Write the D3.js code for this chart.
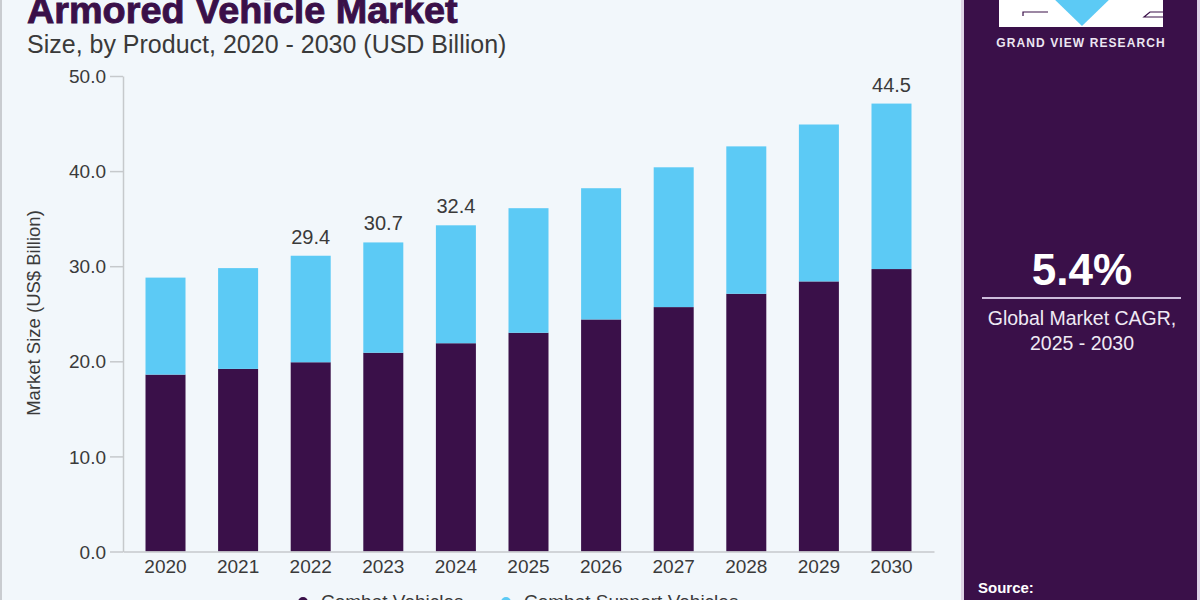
<!DOCTYPE html>
<html>
<head>
<meta charset="utf-8">
<script src="https://cdn.jsdelivr.net/npm/d3@7"></script>
<style>
  html, body { margin: 0; padding: 0; background: #f2f7fb; }
  svg { display: block; font-family: "Liberation Sans", Arial, sans-serif; }
</style>
</head>
<body>
<svg id="chart" width="1200" height="600"></svg>
<script>
// ---- data ----
const years = ["2020","2021","2022","2023","2024","2025","2026","2027","2028","2029","2030"];
const combatVehicles = [18.6, 19.2, 19.9, 20.9, 21.9, 23.0, 24.4, 25.7, 27.1, 28.4, 29.7];
const combatSupportVehicles = [10.2, 10.6, 11.2, 11.6, 12.4, 13.1, 13.8, 14.7, 15.5, 16.5, 17.4];
const seriesNames = ["Combat Vehicles", "Combat Support Vehicles"];
const seriesColors = ["#3a1049", "#5ccaf5"];
const labelYears = ["2022", "2023", "2024", "2030"];
const labelTexts = ["29.4", "30.7", "32.4", "44.5"];
const yTicks = [0, 10, 20, 30, 40, 50];
const cagrValue = "5.4%";
const cagrLines = ["Global Market CAGR,", "2025 - 2030"];

// ---- layout ----
const svg = d3.select("#chart");
const W = 1200, H = 600;

svg.append("rect").attr("width", W).attr("height", H).attr("fill", "#f2f7fb");
// left border line
svg.append("line").attr("x1", 1).attr("x2", 1).attr("y1", 0).attr("y2", H)
  .attr("stroke", "#c9ccd0").attr("stroke-width", 2);

// right panel
svg.append("rect").attr("x", 961).attr("y", 0).attr("width", 239).attr("height", H).attr("fill", "#ddd3e6");
svg.append("rect").attr("x", 964).attr("y", 0).attr("width", 233).attr("height", H).attr("fill", "#3a1049");

// logo (partially cut at top)
const logo = svg.append("g");
logo.append("rect").attr("x", 999).attr("y", -5).attr("width", 164).attr("height", 32).attr("fill", "#ffffff");
logo.append("path").attr("d", "M1050,-5 L1114,-5 L1082,26 Z").attr("fill", "#5ccaf5");
logo.append("path").attr("d", "M1048,12 L1023,12 L1023,16").attr("fill", "none").attr("stroke", "#3a1049").attr("stroke-width", 1.2);
logo.append("path").attr("d", "M1163,12 L1150,12 L1144,17 L1163,17").attr("fill", "none").attr("stroke", "#3a1049").attr("stroke-width", 1.2);
logo.append("text").attr("x", 1081).attr("y", 47).attr("text-anchor", "middle")
  .attr("font-size", 12).attr("font-weight", "bold").attr("letter-spacing", 1.1)
  .attr("fill", "#ece6f2").text("GRAND VIEW RESEARCH");

// CAGR block
svg.append("text").attr("x", 1082).attr("y", 285).attr("text-anchor", "middle")
  .attr("font-size", 44).attr("font-weight", "bold").attr("fill", "#ffffff").text(cagrValue);
svg.append("line").attr("x1", 982).attr("x2", 1181).attr("y1", 298).attr("y2", 298)
  .attr("stroke", "#cdbcdc").attr("stroke-width", 2);
svg.selectAll("text.cagr").data(cagrLines).join("text")
  .attr("class", "cagr").attr("x", 1082).attr("y", (d, i) => 325 + i * 25)
  .attr("text-anchor", "middle").attr("font-size", 19.5).attr("fill", "#efe9f4").text(d => d);
svg.append("text").attr("x", 978).attr("y", 593).attr("font-size", 15).attr("font-weight", "bold")
  .attr("fill", "#ffffff").text("Source:");

// titles
svg.append("text").attr("x", 27).attr("y", 23).attr("font-size", 37.8).attr("font-weight", "bold")
  .attr("fill", "#3a1049").attr("stroke", "#3a1049").attr("stroke-width", 0.9)
  .text("Armored Vehicle Market");
svg.append("text").attr("x", 27).attr("y", 53).attr("font-size", 25).attr("fill", "#3a3a3a")
  .text("Size, by Product, 2020 - 2030 (USD Billion)");

// scales
const x = d3.scaleBand().domain(years).range([123, 934]).paddingInner(0.449).paddingOuter(0.31);
const y = d3.scaleLinear().domain([0, 50]).range([551.5, 76]);

// stack
const rows = years.map((yr, i) => ({ year: yr, c: combatVehicles[i], s: combatSupportVehicles[i] }));
const stack = d3.stack().keys(["c", "s"])(rows);

svg.append("g").selectAll("g").data(stack).join("g")
  .attr("fill", (d, i) => seriesColors[i])
  .selectAll("rect").data(d => d).join("rect")
  .attr("x", d => x(d.data.year))
  .attr("width", x.bandwidth())
  .attr("y", d => y(d[1]))
  .attr("height", d => y(d[0]) - y(d[1]));

// y axis
const yAxis = svg.append("g").attr("transform", "translate(123,0)")
  .call(d3.axisLeft(y).tickValues(yTicks).tickFormat(d3.format(".1f")).tickSize(13).tickSizeOuter(0));
yAxis.select(".domain").attr("stroke", "#c6c9cc").attr("stroke-width", 1.5);
yAxis.selectAll(".tick line").attr("stroke", "#c6c9cc").attr("stroke-width", 1.5);
yAxis.selectAll(".tick text").attr("font-size", 19).attr("fill", "#3a3a3a")
  .attr("font-family", "Liberation Sans, Arial, sans-serif").attr("x", -17).attr("dy", "0.35em");

// x axis
const xAxis = svg.append("g").attr("transform", "translate(0,551.5)")
  .call(d3.axisBottom(x).tickSize(0).tickSizeOuter(0));
xAxis.select(".domain").attr("stroke", "#c6c9cc").attr("stroke-width", 1.5);
xAxis.selectAll(".tick text").attr("font-size", 19).attr("fill", "#3a3a3a")
  .attr("font-family", "Liberation Sans, Arial, sans-serif").attr("y", 8).attr("dy", "0.71em");

// y axis title
svg.append("text").attr("transform", "translate(40,313) rotate(-90)").attr("text-anchor", "middle")
  .attr("font-size", 18.5).attr("fill", "#3a3a3a").text("Market Size (US$ Billion)");

// total labels
const totals = new Map(rows.map(r => [r.year, r.c + r.s]));
svg.append("g").selectAll("text").data(labelYears).join("text")
  .attr("x", d => x(d) + x.bandwidth() / 2)
  .attr("y", d => y(totals.get(d)) - 12)
  .attr("text-anchor", "middle").attr("font-size", 20).attr("fill", "#3a3a3a")
  .text((d, i) => labelTexts[i]);

// legend (cut at bottom, as in the reference)
const legendX = [303, 506];
const lg = svg.append("g").selectAll("g").data(seriesNames).join("g")
  .attr("transform", (d, i) => `translate(${legendX[i]},0)`);
lg.append("circle").attr("cx", 0).attr("cy", 602).attr("r", 5).attr("fill", (d, i) => seriesColors[i]);
lg.append("text").attr("x", 18).attr("y", 608).attr("font-size", 19).attr("fill", "#3a3a3a").text(d => d);
</script>
</body>
</html>
